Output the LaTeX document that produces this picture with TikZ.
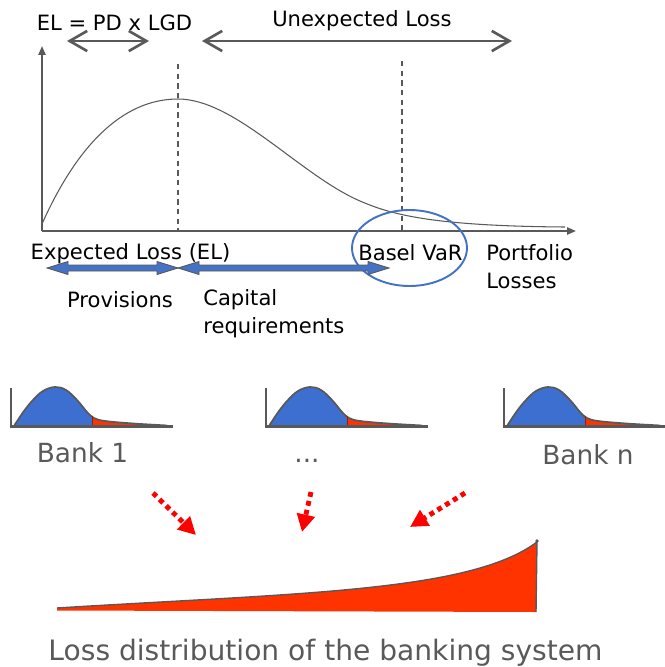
\documentclass[tikz,border=0pt]{standalone}
\usepackage{fontspec}
\setmainfont{DejaVu Sans}
\usetikzlibrary{arrows.meta,shapes.geometric}
\definecolor{dgray}{HTML}{595959}
\definecolor{chartblue}{HTML}{4472C4}
\definecolor{bankblue}{HTML}{3D6FD1}
\definecolor{bankred}{HTML}{FF3300}
\definecolor{arrowred}{HTML}{FF0000}
\newcommand\blueDbl[3]{%
  \filldraw[bluearrow] (#1,#3) -- (#1+21,#3-6.5) -- (#1+21,#3-3) -- (#2-21,#3-3) -- (#2-21,#3-6.5) -- (#2,#3)
   -- (#2-21,#3+6.5) -- (#2-21,#3+3) -- (#1+21,#3+3) -- (#1+21,#3+6.5) -- cycle;}
\begin{document}
\begin{tikzpicture}[x=0.02cm,y=-0.02cm,
  lbl/.style={font=\fontsize{12}{16}\selectfont, inner sep=0pt, text=black},
  banklbl/.style={font=\fontsize{15}{18}\selectfont, inner sep=0pt, text=dgray},
  axisline/.style={draw=dgray, line width=1.1pt, -{Triangle[length=5pt,width=4pt]}},
  curveline/.style={draw=dgray, line width=0.6pt},
  vardash/.style={draw=dgray, line width=0.9pt, dash pattern=on 3pt off 2.5pt},
  rangearrow/.style={draw=dgray, line width=1.5pt, {Straight Barb[length=10pt,width=11.5pt]}-{Straight Barb[length=10pt,width=11.5pt]}},
  bluearrow/.style={fill=chartblue, draw=dgray, line width=0.5pt},
  bankaxis/.style={draw=dgray, line width=1.7pt},
  bankcurve/.style={draw=dgray, line width=1pt},
  redflow/.style={draw=arrowred, line width=2.8pt, dash pattern=on 2.8pt off 2.4pt, -{Triangle[length=10pt,width=10pt]}},
]
\useasboundingbox (0,0) rectangle (664,667);

% ---------- top chart ----------
\coordinate (O) at (42,231);
\coordinate (ytop) at (42,46);
\coordinate (xend) at (576,231);
\draw[axisline] (O) -- (ytop);
\draw[axisline] (O) -- (xend);

\draw[curveline] (42,224) .. controls (75,150) and (120,99) .. (178,99)
  .. controls (235,99) and (300,175) .. (360,201)
  .. controls (390,214) and (430,226) .. (565,227);

\coordinate (d1t) at (178,64);
\coordinate (d1b) at (178,231);
\coordinate (d2t) at (402,61);
\coordinate (d2b) at (402,231);
\draw[vardash] (d1t) -- (d1b);
\draw[vardash] (d2t) -- (d2b);

\node[lbl, anchor=base] (elform) at (114.5,30) {EL = PD x LGD};
\node[lbl, anchor=base] (ultxt) at (362,26) {Unexpected Loss};
\coordinate (ela) at (67,41);
\coordinate (elb) at (149,41);
\coordinate (ula) at (202,41);
\coordinate (ulb) at (512,41);
\draw[rangearrow] (ela) -- (elb);
\draw[rangearrow] (ula) -- (ulb);

\node[lbl, anchor=base] (eltxt) at (130.5,259) {Expected Loss (EL)};
\node[lbl, anchor=base] (vartxt) at (410.5,260) {Basel VaR};
\node[draw=chartblue, line width=1.1pt, ellipse, minimum width=2.3cm, minimum height=1.52cm, inner sep=0pt] (varcirc) at (409.5,248) {};
\node[lbl, anchor=north west, align=left] (portf) at (486,244) {Portfolio\\Losses};

\blueDbl{47}{178}{268}
\blueDbl{178}{389}{268}

\node[lbl, anchor=base] (prov) at (120,307) {Provisions};
\node[lbl, anchor=north west, align=left] (capreq) at (203,289) {Capital\\requirements};

% ---------- bank distributions ----------
\foreach \s in {0,255,493}{
  \begin{scope}[shift={(\s,0)}]
    \fill[bankred] plot[smooth, tension=0.6] coordinates {(14,426) (24,411) (33,400) (43,391) (55,387) (66,390) (77,400) (87,412) (94,418) (105,421) (133,423.5) (167,425.5)} -- (14,426.5) -- cycle;
    \begin{scope}
      \clip (10,380) rectangle (92,428);
      \fill[bankblue] plot[smooth, tension=0.6] coordinates {(14,426) (24,411) (33,400) (43,391) (55,387) (66,390) (77,400) (87,412) (94,418) (105,421) (133,423.5) (167,425.5)} -- (14,426.5) -- cycle;
    \end{scope}
    \draw[bankcurve] plot[smooth, tension=0.6] coordinates {(14,426) (24,411) (33,400) (43,391) (55,387) (66,390) (77,400) (87,412) (94,418) (105,421) (133,423.5) (167,425.5)};
    \draw[draw=bankred!60!black, line width=0.4pt] (92,416) -- (92,426);
    \draw[bankaxis] (11,388) -- (11,426.5) -- (173,426.5);
  \end{scope}
}

\node[banklbl, anchor=base] (bank1) at (82.5,462) {Bank 1};
\node[banklbl, anchor=base] (bankdots) at (307,462) {...};
\node[banklbl, anchor=base] (bankn) at (588,464) {Bank n};

% ---------- flows ----------
\coordinate (a1s) at (153,493);
\coordinate (a1e) at (196,535);
\coordinate (a2s) at (311,492);
\coordinate (a2e) at (302,532);
\coordinate (a3s) at (465,493);
\coordinate (a3e) at (410,527);
\draw[redflow] (a1s) -- (a1e);
\draw[redflow] (a2s) -- (a2e);
\draw[redflow] (a3s) -- (a3e);

% ---------- system loss distribution ----------
\fill[bankred] (57,608) .. controls (300,593) and (470,592) .. (537,542) -- (536,612) -- (57,610.5) -- cycle;
\draw[dgray, line width=0.8pt] (57,608) .. controls (300,593) and (470,592) .. (537,542) -- (536,612);
\fill[dgray] (537,541) circle (1.1pt);

\node[banklbl, font=\fontsize{16}{19}\selectfont, anchor=base] (systxt) at (325.5,660) {Loss distribution of the banking system};
\end{tikzpicture}
\end{document}
